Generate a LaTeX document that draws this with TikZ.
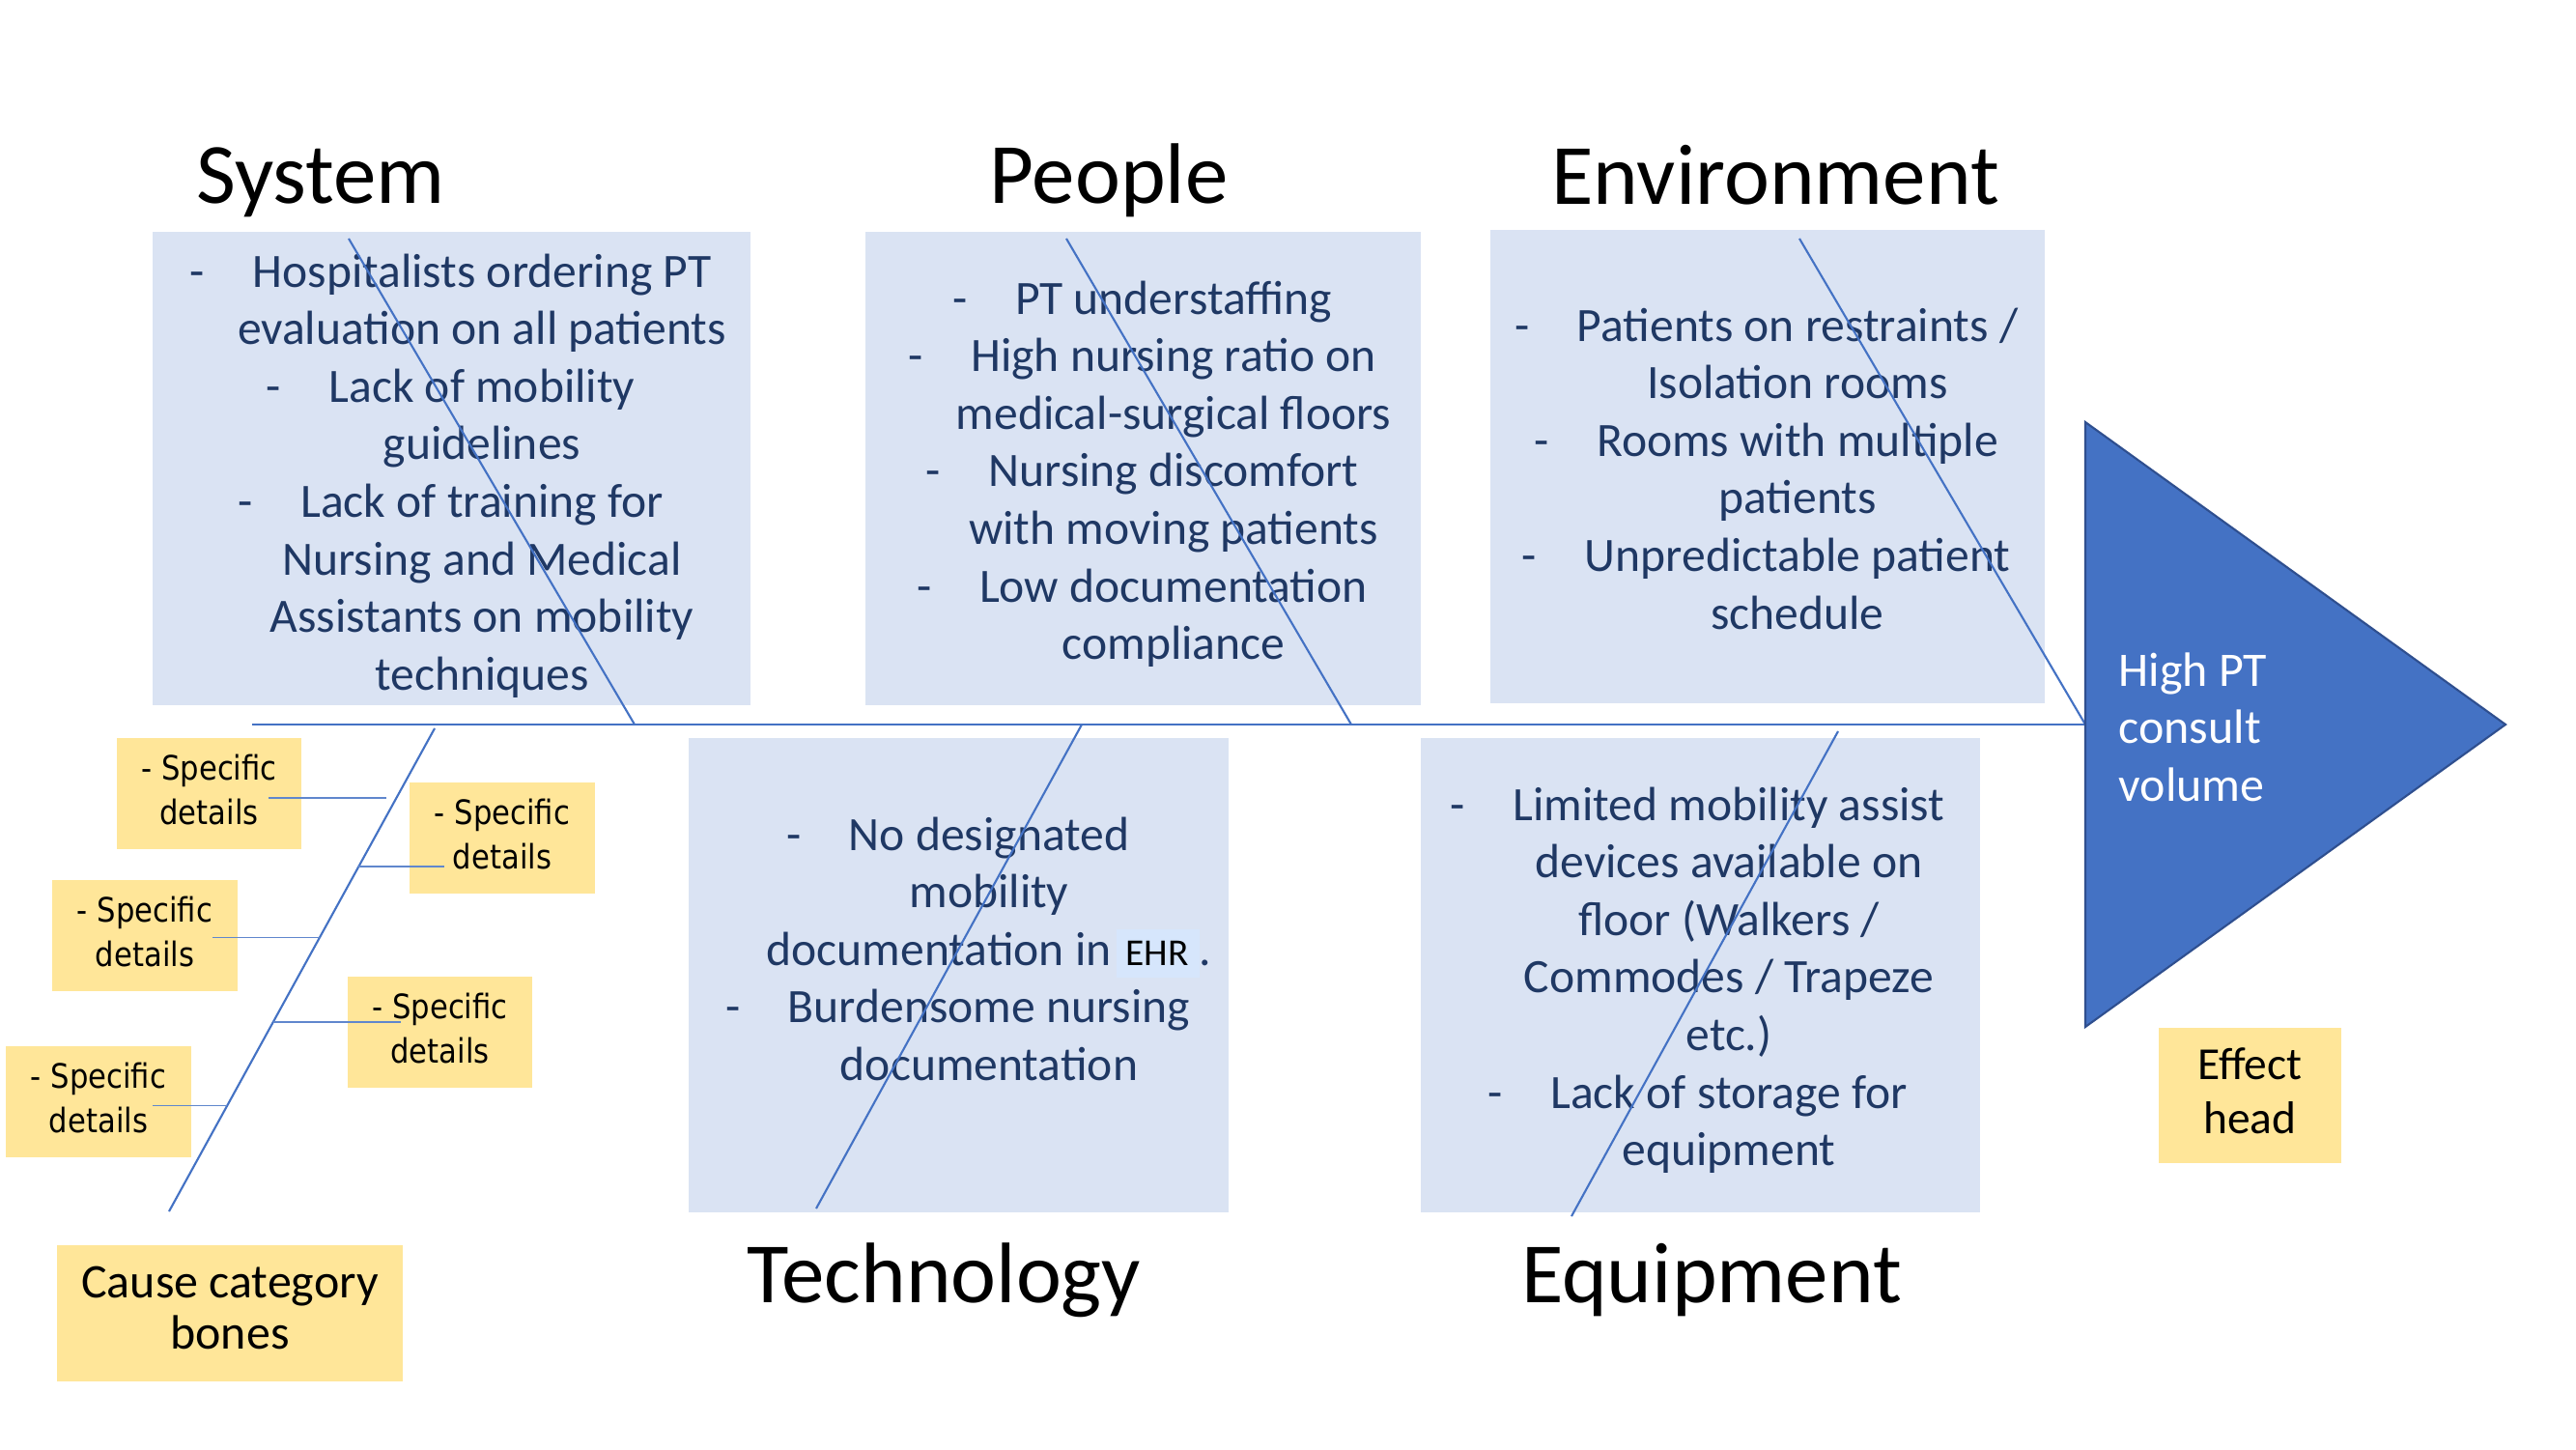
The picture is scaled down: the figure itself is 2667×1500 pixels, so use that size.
\documentclass[tikz,border=0pt]{standalone}
\usepackage{fontspec}
\setmainfont{Carlito}
\newfontfamily\tahoma[FakeStretch=0.88]{DejaVu Sans}
\usetikzlibrary{calc}
\definecolor{boxfill}{HTML}{DAE3F3}
\definecolor{navy}{HTML}{1F3864}
\definecolor{bone}{HTML}{4472C4}
\definecolor{yel}{HTML}{FFE699}
\definecolor{headfill}{HTML}{4472C4}
\definecolor{headline}{HTML}{2F4F8F}
\definecolor{hl}{HTML}{D6E6FC}
\newcommand\bl{\llap{-\hspace{1em}}}
\newcommand\lns[1]{\begin{tabular}[t]{@{}c@{}}#1\end{tabular}}
\newcommand\clns[1]{\begin{tabular}{@{}c@{}}#1\end{tabular}}
\begin{document}
\begin{tikzpicture}[x=0.01cm,y=-0.01cm,
  catbox/.style={fill=boxfill, draw=none, inner sep=0pt},
  ybox/.style={fill=yel, draw=none, inner sep=0pt, minimum width=1.91cm, minimum height=1.15cm, font=\tahoma\fontsize{9.9}{13.1}\selectfont, text=black},
  boxtext/.style={inner sep=0pt, text=navy, font=\fontsize{14.1}{16.95}\selectfont, anchor=base},
  title/.style={inner sep=0pt, anchor=base, font=\fontsize{25.3}{30}\selectfont, text=black},
  boneline/.style={draw=bone, line width=0.6pt},
  spineline/.style={draw=bone, line width=0.75pt},
  twig/.style={draw=bone!85!white, line width=0.4pt},
]
\fill[white] (0,0) rectangle (2667,1500);
\useasboundingbox (0,0) rectangle (2667,1500);

% titles
\node[title] (tsys) at (332,211) {System};
\node[title] (tpeo) at (1148,211) {People};
\node[title] (tenv) at (1838,212) {Environment};
\node[title] (ttec) at (977.5,1348) {Technology};
\node[title] (teqp) at (1772,1348) {Equipment};

% category boxes
\node[catbox, minimum width=6.19cm, minimum height=4.90cm] (sysbox) at (467.5,485) {};
\node[catbox, minimum width=5.75cm, minimum height=4.90cm] (peobox) at (1183.5,485) {};
\node[catbox, minimum width=5.74cm, minimum height=4.90cm] (envbox) at (1830,483) {};
\node[catbox, minimum width=5.59cm, minimum height=4.91cm] (tecbox) at (992.5,1009.5) {};
\node[catbox, minimum width=5.79cm, minimum height=4.91cm] (eqpbox) at (1760.5,1009.5) {};

% category texts
\node[boxtext] (systxt) at (499,297) {\lns{\bl Hospitalists ordering PT\\evaluation on all patients\\\bl Lack of mobility\\guidelines\\\bl Lack of training for\\Nursing and Medical\\Assistants on mobility\\techniques}};
\node[boxtext] (peotxt) at (1215,325) {\lns{\bl PT understaffing\\\bl High nursing ratio on\\medical-surgical floors\\\bl Nursing discomfort\\with moving patients\\\bl Low documentation\\compliance}};
\node[boxtext] (envtxt) at (1861,353) {\lns{\bl Patients on restraints /\\Isolation rooms\\\bl Rooms with multiple\\patients\\\bl Unpredictable patient\\schedule}};
\node[boxtext] (tectxt) at (1024,880) {\lns{\bl No designated\\mobility\\documentation in\hspace{0.1em}{\setlength{\fboxsep}{0pt}\colorbox{hl}{\color{black}\fontsize{11.2}{13}\selectfont\rule[-3.7pt]{0pt}{14.2pt}\hspace{2.85pt}EHR\hspace{3.1pt}}}.\\\bl Burdensome nursing\\documentation}};
\node[boxtext] (eqptxt) at (1790,849) {\lns{\bl Limited mobility assist\\devices available on\\floor (Walkers /\\Commodes / Trapeze\\etc.)\\\bl Lack of storage for\\equipment}};

% detail boxes
\node[ybox] (d1) at (216.5,821.5) {\clns{- Specific\\details}};
\node[ybox] (d2) at (520,867.5) {\clns{- Specific\\details}};
\node[ybox] (d3) at (150,968.5) {\clns{- Specific\\details}};
\node[ybox] (d4) at (455.5,1068.5) {\clns{- Specific\\details}};
\node[ybox] (d5) at (102,1140.5) {\clns{- Specific\\details}};

% legend boxes
\node[fill=yel, inner sep=0pt, minimum width=3.58cm, minimum height=1.41cm, font=\fontsize{14.2}{15.2}\selectfont] (cause) at (238,1359.5) {\clns{Cause category\\bones}};
\node[fill=yel, inner sep=0pt, minimum width=1.89cm, minimum height=1.40cm, font=\fontsize{13.5}{15.9}\selectfont] (effect) at (2329.5,1134) {\clns{Effect\\head}};

% coordinates
\coordinate (spL) at (261,750);
\coordinate (spR) at (2159,750);
\coordinate (sysT) at (361,247);  \coordinate (sysB) at (657,750);
\coordinate (peoT) at (1104,247); \coordinate (peoB) at (1399,750);
\coordinate (envT) at (1863,247); \coordinate (envB) at (2159,750);
\coordinate (tecT) at (1120,750); \coordinate (tecB) at (845,1251);
\coordinate (eqpT) at (1903,757); \coordinate (eqpB) at (1627,1259);
\coordinate (cbT) at (450,754);   \coordinate (cbB) at (175,1254);
\coordinate (c1a) at (278,826);   \coordinate (c1b) at (400,826);
\coordinate (c2a) at (371,897);   \coordinate (c2b) at (460,897);
\coordinate (c3a) at (220,970.5); \coordinate (c3b) at (331,970.5);
\coordinate (c4a) at (283,1058);  \coordinate (c4b) at (415,1058);
\coordinate (c5a) at (158,1144.5);\coordinate (c5b) at (235,1144.5);
\coordinate (hT) at (2159,437); \coordinate (hTip) at (2594,750); \coordinate (hB) at (2159,1063);

% bones
\draw[spineline] (spL) -- (spR);
\draw[boneline] (sysT) -- (sysB);
\draw[boneline] (peoT) -- (peoB);
\draw[boneline] (envT) -- (envB);
\draw[boneline] (tecT) -- (tecB);
\draw[boneline] (eqpT) -- (eqpB);
\draw[boneline] (cbT) -- (cbB);
\draw[twig] (c1a) -- (c1b);
\draw[twig] (c2a) -- (c2b);
\draw[twig] (c3a) -- (c3b);
\draw[twig] (c4a) -- (c4b);
\draw[twig] (c5a) -- (c5b);

% head
\draw[fill=headfill, draw=headline, line width=0.6pt, line join=miter] (hT) -- (hTip) -- (hB) -- cycle;
\node[inner sep=0pt, anchor=base west, text=white, font=\fontsize{14.2}{17}\selectfont] (headtxt) at (2193,710) {\begin{tabular}[t]{@{}l@{}}High PT\\consult\\volume\end{tabular}};
\end{tikzpicture}
\end{document}
